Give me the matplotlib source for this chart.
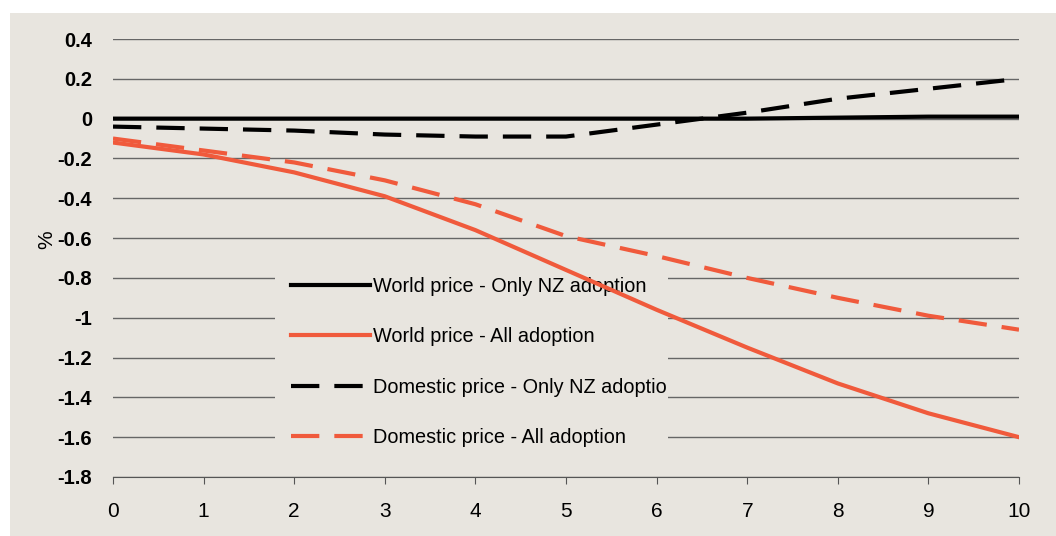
import matplotlib
matplotlib.use("Agg")
import matplotlib.pyplot as plt
from matplotlib.patches import Rectangle
from matplotlib.transforms import Bbox, TransformedBbox

years = list(range(11))
world_nz = [0, 0, 0, 0, 0, 0, 0, 0, 0.005, 0.01, 0.01]
world_all = [-0.12, -0.18, -0.27, -0.39, -0.56, -0.76, -0.96, -1.15, -1.33, -1.48, -1.60]
dom_nz = [-0.04, -0.05, -0.06, -0.08, -0.09, -0.09, -0.03, 0.03, 0.10, 0.15, 0.20]
dom_all = [-0.10, -0.16, -0.22, -0.31, -0.43, -0.59, -0.69, -0.80, -0.90, -0.99, -1.06]
labels = ["World price - Only NZ adoption", "World price - All adoption",
          "Domestic price - Only NZ adoption", "Domestic price - All adoption"]
yticks = [0.4, 0.2, 0, -0.2, -0.4, -0.6, -0.8, -1, -1.2, -1.4, -1.6, -1.8]
ytick_labels = ["0.4", "0.2", "0", "-0.2", "-0.4", "-0.6", "-0.8", "-1", "-1.2", "-1.4", "-1.6", "-1.8"]

BG = "#E8E5DF"
RED = "#F05A3C"
plt.rcParams['font.family'] = ['Liberation Sans', 'DejaVu Sans']

W, H = 1056, 536
fig = plt.figure(figsize=(W / 100, H / 100), dpi=100, facecolor="white")
fig.patches.append(Rectangle((10 / W, 0), 1, 1 - 13 / H, transform=fig.transFigure,
                             facecolor=BG, edgecolor="none", zorder=-10))
ax = fig.add_axes([113 / W, 1 - 477 / H, (1019 - 113) / W, (477 - 39) / H])
ax.set_facecolor(BG)
ax.patch.set_alpha(0)

ax.set_xlim(0, 10)
ax.set_ylim(-1.8, 0.4)
ax.set_yticks(yticks)
ax.set_yticklabels(ytick_labels, fontsize=14.5, fontweight="bold")
ax.set_xticks(years)
ax.set_xticklabels([str(y) for y in years], fontsize=15)
ax.tick_params(axis="y", length=0, pad=15)
ax.tick_params(axis="x", length=5, direction="out", color="#555555", pad=13)
ax.grid(axis="y", color="#666666", linewidth=1)
for s in ["top", "right", "left"]:
    ax.spines[s].set_visible(False)
ax.spines["bottom"].set_color("#555555")
fig.text(47 / W, 1 - 240 / H, "%", rotation=90, fontsize=15, ha="center", va="center")

DASH = (6.8, 3.6)
ax.plot(years, world_nz, color="black", lw=3, label=labels[0], zorder=5)
ax.plot(years, world_all, color=RED, lw=3, label=labels[1], zorder=5)
ax.plot(years, dom_nz, color="black", lw=3, dashes=DASH, label=labels[2], zorder=5)
ax.plot(years, dom_all, color=RED, lw=3, dashes=DASH, label=labels[3], zorder=5)

# legend background box
lx0, lx1, ly0, ly1 = 275, 668, 262, 460
ax.add_patch(Rectangle((lx0 / W, 1 - ly1 / H), (lx1 - lx0) / W, (ly1 - ly0) / H,
                       transform=fig.transFigure, facecolor=BG, edgecolor="none", zorder=3))
leg = ax.legend(loc="upper left", bbox_to_anchor=(283 / W, 1 - 269 / H),
                bbox_transform=fig.transFigure, frameon=False, fontsize=14.3,
                handlelength=4.0, handletextpad=0.15, labelspacing=1.58,
                borderaxespad=0, borderpad=0.4)
leg.set_zorder(4)
clip = TransformedBbox(Bbox([[lx0 / W, 0], [lx1 / W, 1]]), fig.transFigure)
for t in leg.get_texts():
    t.set_clip_box(clip)
    t.set_clip_on(True)

fig.savefig("out.png", dpi=100, facecolor="white")
